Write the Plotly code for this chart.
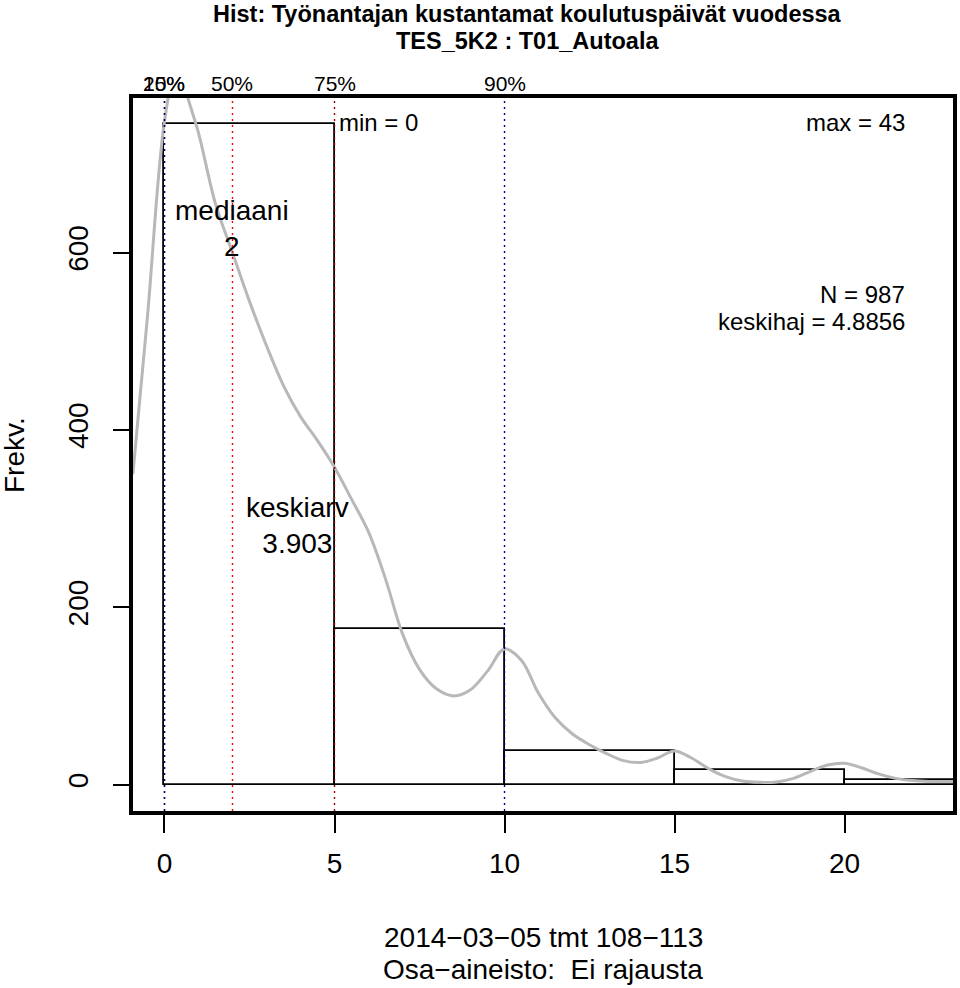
import plotly.graph_objects as go

# ---------------- data ----------------
bin_left = [0, 5, 10, 15, 20]
bin_width = 5
bin_counts = [745, 176, 38, 16, 5]

dens_x = [-0.93, -0.5, 0.0, 0.38, 0.69, 1.0, 1.5, 2.0, 2.5, 3.0, 3.5, 4.0, 4.5, 5.0, 5.5,
          6.0, 6.5, 7.0, 7.5, 8.0, 8.5, 9.0, 9.5, 10.0, 10.5, 11.0, 11.5, 12.0, 12.5, 13.0,
          13.5, 14.0, 14.5, 15.0, 15.5, 16.0, 16.5, 17.0, 17.5, 18.0, 18.5, 19.0, 19.5, 20.0,
          20.5, 21.0, 21.5, 22.0, 22.5, 23.2]
dens_y = [350, 528, 748, 815, 774, 735, 655, 600, 545, 495, 450, 415, 388, 358, 322,
          285, 232, 170, 130, 108, 100, 107, 128, 153, 140, 103, 75, 57, 45, 35,
          27, 25, 30, 38, 30, 18, 9, 4, 2.5, 3, 7, 15, 22, 24,
          19, 12, 7, 4.5, 3.5, 3.4]

pct_labels = ["25%", "10%", "50%", "75%", "90%"]
pct_values = [0, 0, 2, 5, 10]
pct_colors = ["#8b0000", "#000080", "#ff0000", "#8b0000", "#000080"]

median_val = 2
mean_val = 3.903
n_obs = 987
sd_val = 4.8856
min_val = 0
max_val = 43

title_lines = ["Hist: Työnantajan kustantamat koulutuspäivät vuodessa", "TES_5K2 : T01_Autoala"]
xlab_lines = ["2014−03−05 tmt 108−113", "Osa−aineisto:  Ei rajausta"]
ylab = "Frekv."
x_ticks = [0, 5, 10, 15, 20]
y_ticks = [0, 200, 400, 600]

XR = [-0.926, 23.19]
YR = [-29.8, 774.4]
FONT = "Liberation Sans, Arial, Helvetica, sans-serif"
TFONT = "Liberation Sans Narrow, Liberation Sans, Arial"

W, H = 960, 988
L, R, T, B = 133, 7, 98, 177
pw, ph = W - L - R, H - T - B


def paper(px, py):
    """window pixel -> plot-area paper coordinates"""
    return (px - L) / pw, (H - B - py) / ph


fig = go.Figure()

fig.add_trace(go.Bar(
    x=[l + bin_width / 2 for l in bin_left], y=bin_counts, width=bin_width, base=0,
    marker=dict(color="rgba(255,255,255,0)", line=dict(color="black", width=1.8)),
    hoverinfo="skip", showlegend=False))

for v, c in zip(pct_values, pct_colors):
    fig.add_shape(type="line", xref="x", yref="paper", x0=v, x1=v, y0=0, y1=1,
                  line=dict(color=c, width=1.4, dash="2px,4px"), layer="above")

fig.add_trace(go.Scatter(x=dens_x, y=dens_y, mode="lines",
                         line=dict(color="#b8b8b8", width=3, shape="spline", smoothing=1.0),
                         hoverinfo="skip", showlegend=False))

ann = []
_, ypct = paper(0, 83)
for lab, v in zip(pct_labels, pct_values):
    ann.append(dict(x=v, y=ypct, xref="x", yref="paper", text=lab, showarrow=False,
                    font=dict(size=21, color="black", family=FONT),
                    xanchor="center", yanchor="middle"))

big = dict(size=28, family=FONT, color="black")
mid = dict(size=24, family=FONT, color="black")
ann.append(dict(x=median_val, y=627, xref="x", yref="y", text=f"mediaani<br>{median_val}",
                showarrow=False, font=big, align="center"))
ann.append(dict(x=mean_val, y=292, xref="x", yref="y", text=f"keskiarv<br>{mean_val}",
                showarrow=False, font=big, align="center"))
ann.append(dict(x=5.07, y=746.6, xref="x", yref="y", text=f"min = {min_val}", showarrow=False,
                xanchor="left", font=mid))
ann.append(dict(x=21.84, y=746.6, xref="x", yref="y", text=f"max = {max_val}", showarrow=False,
                xanchor="right", font=mid))
ann.append(dict(x=21.84, y=552.6, xref="x", yref="y", text=f"N = {n_obs}", showarrow=False,
                xanchor="right", font=mid))
ann.append(dict(x=21.84, y=522, xref="x", yref="y", text=f"keskihaj = {sd_val}", showarrow=False,
                xanchor="right", font=mid))

for txt, py in zip(title_lines, [14, 41]):
    xp, yp = paper(527, py)
    ann.append(dict(x=xp, y=yp, xref="paper", yref="paper", text=txt, showarrow=False,
                    xanchor="center", yanchor="middle",
                    font=dict(size=23.5, family=TFONT, color="black", weight="bold")))
for txt, py in zip(xlab_lines, [937, 969]):
    xp, yp = paper(543, py)
    ann.append(dict(x=xp, y=yp, xref="paper", yref="paper", text=txt, showarrow=False,
                    xanchor="center", yanchor="middle", font=big))
xp, yp = paper(14, 455)
ann.append(dict(x=xp, y=yp, xref="paper", yref="paper", text=ylab, showarrow=False,
                textangle=-90, xanchor="center", yanchor="middle", font=big))

fig.update_layout(
    width=W, height=H,
    margin=dict(l=L, r=R, t=T, b=B, pad=0, autoexpand=False),
    paper_bgcolor="white", plot_bgcolor="white",
    font=dict(family=FONT, color="black"),
    annotations=ann,
    xaxis=dict(range=XR, tickvals=x_ticks, ticktext=[str(t) for t in x_ticks],
               showgrid=False, zeroline=False, showline=True, mirror=True, linewidth=3.5,
               linecolor="black", ticks="outside", ticklen=18, tickwidth=1.6, tickcolor="black",
               tickfont=dict(size=28, family=FONT, color="black"), ticklabelstandoff=7,
               automargin=False),
    yaxis=dict(range=YR, tickvals=y_ticks, ticktext=[str(t) for t in y_ticks],
               showgrid=False, zeroline=False, showline=True, mirror=True, linewidth=3.5,
               linecolor="black", ticks="outside", ticklen=16, tickwidth=1.6, tickcolor="black",
               tickangle=-90, tickfont=dict(size=28, family=FONT, color="black"),
               ticklabelstandoff=14, automargin=False),
    bargap=0,
)

fig.write_html("out.html", config={"displayModeBar": False},
               post_script="document.body.style.margin='0';document.body.style.overflow='hidden';")
